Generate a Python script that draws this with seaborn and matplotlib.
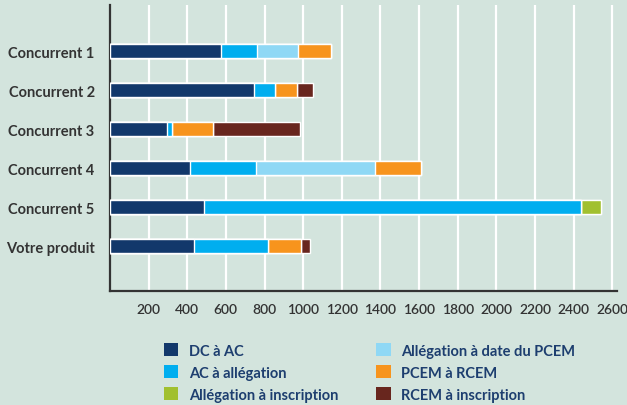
import numpy as np
import pandas as pd
import matplotlib
matplotlib.use("Agg")
import matplotlib.pyplot as plt
import seaborn as sns
from matplotlib.patches import Patch

# data (days per phase)
products = ["Concurrent 1", "Concurrent 2", "Concurrent 3",
            "Concurrent 4", "Concurrent 5", "Votre produit"]
phases = ["DC à AC", "AC à allégation", "Allégation à date du PCEM",
          "PCEM à RCEM", "Allégation à inscription", "RCEM à inscription"]
dc_ac = [575, 746, 295, 414, 487, 435]
ac_alleg = [186, 108, 24, 342, 1953, 383]
alleg_pcem = [213, 0, 0, 616, 0, 0]
pcem_rcem = [170, 114, 214, 239, 0, 172]
alleg_inscr = [0, 0, 0, 0, 103, 0]
rcem_inscr = [0, 83, 451, 0, 0, 46]
xticks = list(range(200, 2601, 200))

colors = {
    "DC à AC": "#12386b",
    "AC à allégation": "#00aeef",
    "Allégation à date du PCEM": "#8fd8f5",
    "PCEM à RCEM": "#f7941d",
    "Allégation à inscription": "#a1c02f",
    "RCEM à inscription": "#68261e",
}
bg = "#d3e4dd"

df = pd.DataFrame({"product": products, "DC à AC": dc_ac,
                   "AC à allégation": ac_alleg,
                   "Allégation à date du PCEM": alleg_pcem,
                   "PCEM à RCEM": pcem_rcem,
                   "Allégation à inscription": alleg_inscr,
                   "RCEM à inscription": rcem_inscr})
cum = df[phases].cumsum(axis=1)

sns.set_style("white")
plt.rcParams["font.family"] = ["Lato", "DejaVu Sans"]

fig = plt.figure(figsize=(6.27, 4.06), dpi=100, facecolor=bg)
ax = fig.add_axes([0.1754, 0.281, 0.809, 0.704])
ax.set_facecolor(bg)

# stacked bars: draw cumulative totals from the outermost segment inward
for ph in reversed(phases):
    sns.barplot(x=cum[ph], y=df["product"], orient="h", color=colors[ph],
                width=0.36, saturation=1, ax=ax, zorder=3)

ax.set_xlim(0, 2626)
ax.set_ylim(6.15, -1.18)
ax.set_xticks(xticks)
ax.set_xticklabels([str(t) for t in xticks])
ax.grid(axis="x", color="white", linewidth=1.6, zorder=0)
ax.set_axisbelow(True)
ax.set_xlabel("")
ax.set_ylabel("")
for s in ["top", "right"]:
    ax.spines[s].set_visible(False)
for s in ["left", "bottom"]:
    ax.spines[s].set_color("#333333")
    ax.spines[s].set_linewidth(1.6)
ax.tick_params(axis="x", length=0, pad=9, labelsize=10, labelcolor="#333333")
ax.tick_params(axis="y", length=0, pad=11, labelsize=10.5, labelcolor="#333333")
for lbl in ax.get_yticklabels():
    lbl.set_fontweight("bold")
for lbl in ax.get_xticklabels():
    lbl.set_fontweight("semibold")

order = ["DC à AC", "AC à allégation", "Allégation à inscription",
         "Allégation à date du PCEM", "PCEM à RCEM", "RCEM à inscription"]
handles = [Patch(facecolor=colors[k], edgecolor="none", label=k) for k in order]
leg = fig.legend(handles=handles, loc="upper left", bbox_to_anchor=(0.252, 0.166),
                 ncol=2, frameon=False, handlelength=1.0, handleheight=1.0,
                 handletextpad=0.7, columnspacing=2.6, labelspacing=0.5,
                 borderaxespad=0, prop={"size": 10.5, "weight": "bold"},
                 labelcolor="#1d3e6f")

fig.savefig("out.png", dpi=100, facecolor=bg)
